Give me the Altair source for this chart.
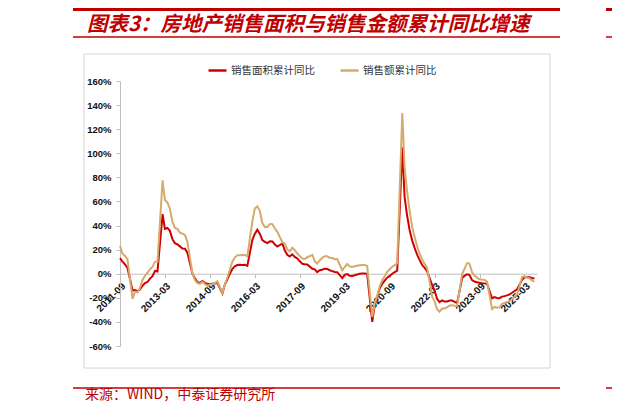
import altair as alt
import pandas as pd

# month labels (Wind reports Jan-Feb together, so no January points)
months = [f"{y}-{m:02d}" for y in range(2011, 2026) for m in range(2, 13)
          if "2011-09" <= f"{y}-{m:02d}" <= "2025-07"]

# 商品房销售面积累计同比 (%)
area_yoy = [
    12.9, 10.0, 7.8, 4.9,
    -14.0, -13.6, -14.4, -13.2, -10.0, -7.7, -6.9, -4.0, -2.1, 2.4, 1.8,
    49.5, 37.2, 38.0, 35.6, 28.7, 25.4, 24.3, 22.7, 21.0, 20.8, 17.3,
    -0.1, -3.8, -6.7, -7.8, -6.0, -7.6, -8.3, -8.6, -8.4, -8.2, -7.6,
    -16.3, -9.2, -4.8, -0.2, 3.9, 6.1, 7.2, 7.5, 7.2, 7.4, 6.5,
    28.2, 33.1, 36.5, 33.2, 27.9, 26.4, 25.5, 26.9, 26.8, 24.3, 22.5,
    25.1, 19.5, 15.7, 14.3, 16.1, 14.0, 12.7, 10.3, 8.2, 7.9, 7.7,
    4.1, 3.6, 1.3, 2.9, 3.3, 4.2, 4.0, 2.9, 2.2, 1.4, 1.3,
    -3.6, -0.9, -0.3, -1.6, -1.8, -1.3, -0.6, -0.1, 0.1, 0.2, -0.1,
    -39.9, -26.3, -19.3, -12.3, -8.4, -5.8, -3.3, -1.8, 0.0, 1.3, 2.6,
    104.9, 63.8, 48.1, 36.3, 27.7, 21.5, 15.9, 11.3, 7.2, 4.8, 1.9,
    -9.6, -13.8, -20.9, -23.6, -22.2, -23.1, -23.0, -22.2, -22.3, -23.3, -24.3,
    -3.6, -1.8, -0.4, -0.9, -5.3, -6.5, -7.1, -7.5, -7.8, -8.0, -8.5,
    -20.5, -19.4, -20.2, -20.3, -19.0, -18.6, -18.0, -17.1, -15.8, -14.3, -12.9,
    -5.1, -3.0, -2.8, -2.9, -3.5, -4.0,
]

# 商品房销售额累计同比 (%)
amount_yoy = [
    23.2, 16.8, 14.8, 12.1,
    -20.9, -15.0, -15.5, -11.9, -5.2, -1.7, 0.8, 3.7, 5.7, 10.0, 10.0,
    77.6, 61.2, 59.0, 54.0, 43.2, 38.0, 37.2, 34.0, 33.3, 32.2, 26.3,
    -0.1, -5.2, -7.8, -8.5, -6.7, -8.6, -10.0, -8.9, -8.9, -7.8, -6.3,
    -15.8, -9.3, -3.1, 3.0, 10.0, 13.4, 15.3, 15.3, 15.6, 15.6, 14.4,
    43.6, 54.1, 55.9, 52.4, 42.1, 38.7, 38.7, 41.3, 41.2, 37.5, 34.8,
    26.0, 25.1, 20.2, 18.6, 21.5, 19.5, 16.8, 14.6, 12.6, 12.3, 13.7,
    15.6, 10.4, 8.5, 11.0, 13.2, 14.5, 14.5, 13.3, 13.0, 12.1, 12.2,
    2.8, 5.6, 8.1, 6.1, 5.6, 6.2, 6.7, 7.1, 7.3, 7.3, 6.5,
    -35.9, -24.7, -18.6, -10.6, -5.4, -2.1, 1.6, 3.7, 5.8, 7.2, 8.7,
    133.4, 88.5, 68.0, 52.4, 38.9, 30.7, 22.8, 16.6, 11.8, 8.0, 4.8,
    -19.3, -22.7, -29.5, -31.5, -28.9, -28.8, -27.9, -26.3, -26.1, -26.6, -26.7,
    -0.1, 4.1, 8.8, 8.4, 1.1, -1.5, -3.2, -4.6, -4.9, -5.2, -6.5,
    -29.3, -27.6, -28.3, -27.9, -25.0, -24.3, -23.6, -22.7, -20.9, -19.2, -17.1,
    -2.6, -2.1, -3.2, -3.8, -5.5, -6.5,
]

series_names = ["销售面积累计同比", "销售额累计同比"]
series_colors = ["#D00000", "#D6AA6C"]
x_ticks = ["2011-09", "2013-03", "2014-09", "2016-03", "2017-09",
           "2019-03", "2020-09", "2022-03", "2023-09", "2025-03"]
y_ticks = [-60, -40, -20, 0, 20, 40, 60, 80, 100, 120, 140, 160]

title_text = "图表3：房地产销售面积与销售金额累计同比增速"
source_text = "来源：WIND，中泰证券研究所"
RED = "#C00000"

df = pd.concat([
    pd.DataFrame({"date": pd.to_datetime(months), "value": area_yoy, "series": series_names[0]}),
    pd.DataFrame({"date": pd.to_datetime(months), "value": amount_yoy, "series": series_names[1]}),
])

W, H = 417, 265
zero_offset = -H * 60 / 220


def dt(s):
    y, m = s.split("-")
    return alt.DateTime(year=int(y), month=int(m), date=1)


base = alt.Chart(df).mark_line(strokeWidth=2).encode(
    x=alt.X("date:T",
            scale=alt.Scale(domain=[dt("2011-09"), dt("2025-08")]),
            axis=alt.Axis(values=[dt(t) for t in x_ticks], format="%Y-%m",
                          labelAngle=-45, title=None, grid=False,
                          offset=zero_offset, labelOverlap=False,
                          labelFontSize=10, labelFontWeight="bold",
                          labelFont="Liberation Sans", labelColor="#111",
                          labelPadding=3, tickSize=4,
                          domainColor="#bfbfbf", tickColor="#bfbfbf")),
    y=alt.Y("value:Q",
            scale=alt.Scale(domain=[-60, 160], nice=False, zero=False),
            axis=alt.Axis(values=y_ticks, labelExpr="datum.value + '%'",
                          title=None, grid=False, labelFontSize=9.5,
                          labelFontWeight="bold", labelFont="Liberation Sans",
                          labelColor="#111", labelPadding=5, tickSize=4,
                          domainColor="#bfbfbf", tickColor="#bfbfbf")),
    color=alt.Color("series:N",
                    scale=alt.Scale(domain=series_names, range=series_colors),
                    legend=alt.Legend(orient="none", legendX=87, legendY=-21,
                                      direction="horizontal", title=None,
                                      symbolType="stroke", symbolStrokeWidth=2.5,
                                      symbolSize=324, labelFontSize=10.5,
                                      labelFont="Noto Sans CJK SC",
                                      labelColor="#333", labelOffset=3,
                                      columnPadding=20)),
)

area_line = base.transform_filter(alt.datum.series == series_names[0])
amount_line = base.transform_filter(alt.datum.series == series_names[1])

deco = pd.DataFrame({"k": [0]})

frame = alt.Chart(deco).mark_rect(fill="white", fillOpacity=0, stroke="#d4d4d4",
                                  strokeWidth=1).encode(
    x=alt.value(-36), x2=alt.value(430), y=alt.value(-27), y2=alt.value(287))


def red_rule(x1, x2, y, w):
    return alt.Chart(deco).mark_rule(color=RED, strokeWidth=w).encode(
        x=alt.value(x1), x2=alt.value(x2), y=alt.value(y))


rules = [
    red_rule(-47, 440, -71.5, 3), red_rule(486, 500, -71.5, 3),
    red_rule(-47, 440, -44, 1.5), red_rule(486, 500, -44, 1.5),
    red_rule(-47, 440, 307, 1.5), red_rule(486, 500, 307, 1.5),
]

title = alt.Chart(deco).mark_text(
    align="left", baseline="middle", fontSize=20.5, fontWeight="bold",
    fontStyle="italic", color=RED, font="Noto Sans CJK SC").encode(
    x=alt.value(-33), y=alt.value(-56), text=alt.value(title_text))

source = alt.Chart(deco).mark_text(
    align="left", baseline="middle", fontSize=14, color=RED,
    font="Noto Sans CJK SC").encode(
    x=alt.value(-35), y=alt.value(314), text=alt.value(source_text))

chart = alt.layer(frame, *rules, title, source, area_line, amount_line).properties(
    width=W, height=H,
    autosize=alt.AutoSizeParams(type="none"),
    padding={"left": 112, "top": 73, "right": 75, "bottom": 61},
).configure_view(strokeWidth=0)

chart.save("out.html", embed_options={"renderer": "svg", "actions": False})
